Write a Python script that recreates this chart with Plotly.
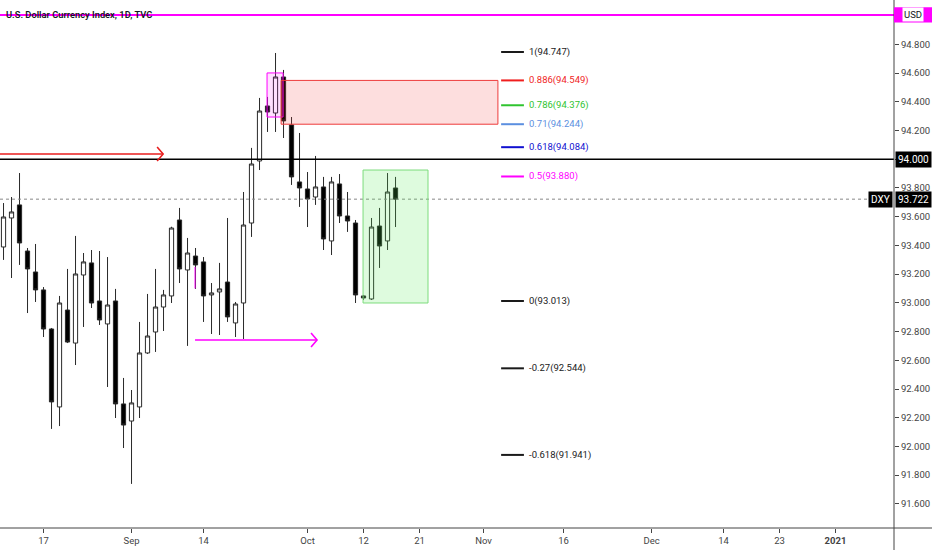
import pandas as pd
import plotly.graph_objects as go

# ---------------- data ----------------
candle_start = "2020-08-10"
axis_end = "2021-01-08"

opens = [93.389, 93.591, 93.682, 93.361, 93.215, 93.090, 92.818, 92.275, 92.950, 92.720,
         93.194, 93.278, 93.013, 92.853, 93.013, 92.296, 92.177, 92.275, 92.651, 92.797,
         92.971, 93.048, 93.577, 93.229, 93.326, 93.285, 93.055, 93.076, 93.145, 92.860,
         92.999, 93.556, 93.988, 94.371, 94.322, 94.573, 94.239, 93.842, 93.793, 93.737,
         93.807, 93.431, 93.828, 93.605, 93.556, 93.048, 93.027, 93.535, 93.431, 93.800]
highs = [93.695, 93.737, 93.904, 93.382, 93.410, 93.110, 92.825, 93.048, 93.236, 93.466,
         93.347, 93.368, 93.361, 93.319, 93.097, 92.477, 92.393, 92.867, 93.062, 93.236,
         93.090, 93.530, 93.661, 93.452, 93.382, 93.319, 93.138, 93.278, 93.591, 93.006,
         93.772, 94.079, 94.427, 94.434, 94.740, 94.622, 94.294, 94.183, 93.911, 94.023,
         93.877, 93.877, 93.897, 93.772, 93.577, 93.055, 93.591, 93.661, 93.904, 93.877]
lows = [93.299, 93.173, 93.264, 92.929, 93.006, 92.762, 92.122, 92.142, 92.720, 92.567,
        92.832, 92.964, 92.846, 92.414, 92.198, 91.989, 91.739, 92.198, 92.644, 92.658,
        92.804, 92.999, 93.138, 92.700, 93.097, 92.867, 92.783, 92.776, 92.867, 92.762,
        92.748, 93.459, 93.925, 94.190, 94.190, 94.148, 93.821, 93.668, 93.528, 93.682,
        93.368, 93.333, 93.556, 93.494, 92.999, 93.020, 93.020, 93.243, 93.368, 93.528]
closes = [93.598, 93.633, 93.417, 93.236, 93.090, 92.818, 92.310, 92.999, 92.727, 93.201,
          93.285, 92.999, 92.881, 92.985, 92.296, 92.149, 92.303, 92.651, 92.769, 92.971,
          93.055, 93.521, 93.236, 93.347, 93.264, 93.048, 93.069, 93.097, 92.902, 92.992,
          93.542, 93.967, 94.336, 94.329, 94.573, 94.267, 93.877, 93.800, 93.723, 93.807,
          93.445, 93.842, 93.605, 93.570, 93.055, 93.034, 93.528, 93.396, 93.772, 93.722]

tick_dates = ["2020-08-17", "2020-09-01", "2020-09-14", "2020-10-01", "2020-10-12", "2020-10-21",
              "2020-11-02", "2020-11-16", "2020-12-01", "2020-12-14", "2020-12-23", "2021-01-01"]
tick_text = ["17", "Sep", "14", "Oct", "12", "21", "Nov", "16", "Dec", "14", "23", "<b>2021</b>"]

price_ticks = [91.6, 91.8, 92.0, 92.2, 92.4, 92.6, 92.8, 93.0, 93.2, 93.4, 93.6, 93.8,
               94.0, 94.2, 94.4, 94.6, 94.8]

fib_ratios = ["1", "0.886", "0.786", "0.71", "0.618", "0.5", "0", "-0.27", "-0.618"]
fib_prices = [94.747, 94.549, 94.376, 94.244, 94.084, 93.880, 93.013, 92.544, 91.941]
fib_colors = ["#1a1a1a", "#f01e1e", "#2fc42f", "#5b8fe0", "#1010d0", "#ff00ff",
              "#1a1a1a", "#1a1a1a", "#1a1a1a"]

last_price = 93.722
level_94 = 94.000
usd_level = 95.005

# drawing anchors (bar-index units / price units)
x_range = [-0.44, 111.31]
y_range = [91.432, 95.109]
fib_line_x = [62.2, 65.05]
fib_label_x = 65.4
red_arrow = dict(x0=-1.0, x1=19.95, y=94.037)
magenta_arrow = dict(x0=23.94, x1=39.19, y=92.741)
magenta_tick = dict(x=23.94, y0=93.10, y1=93.25)
magenta_box = dict(x0=32.94, x1=34.94, y0=94.294, y1=94.601)
red_box = dict(x0=34.7, x1=61.8, y0=94.244, y1=94.549)
green_box = dict(x0=44.94, x1=53.06, y0=92.999, y1=93.925)
chev_dx, chev_dy = 0.75, 0.049

# ---------------- build ----------------
all_days = pd.bdate_range(candle_start, axis_end)
day_index = {d.strftime("%Y-%m-%d"): i for i, d in enumerate(all_days)}
xs = list(range(len(opens)))
tick_vals = [day_index[d] for d in tick_dates]

FONT = "Roboto"
fig = go.Figure()

fig.add_trace(go.Candlestick(
    x=xs, open=opens, high=highs, low=lows, close=closes,
    increasing=dict(line=dict(color="#2a2a2a", width=1), fillcolor="#ffffff"),
    decreasing=dict(line=dict(color="#2a2a2a", width=1), fillcolor="#000000"),
    whiskerwidth=0, hoverinfo="skip", showlegend=False,
))

shapes = []
shapes.append(dict(type="line", xref="paper", yref="y", x0=0, x1=1, y0=usd_level, y1=usd_level,
                   line=dict(color="#ff00ff", width=2)))
shapes.append(dict(type="line", xref="paper", yref="y", x0=0, x1=1, y0=level_94, y1=level_94,
                   line=dict(color="#000000", width=1.5)))
shapes.append(dict(type="line", xref="paper", yref="y", x0=0, x1=1, y0=last_price, y1=last_price,
                   line=dict(color="#888888", width=1, dash="dot")))
for b, lc, fc in [(magenta_box, "#ff00ff", "rgba(255,0,255,0.12)"),
                  (red_box, "#ee3b3b", "rgba(242,60,60,0.17)"),
                  (green_box, "#7ddc7d", "rgba(90,235,90,0.2)")]:
    shapes.append(dict(type="rect", xref="x", yref="y", x0=b["x0"], x1=b["x1"], y0=b["y0"], y1=b["y1"],
                       line=dict(color=lc, width=1), fillcolor=fc, layer="above"))
for p, c in zip(fib_prices, fib_colors):
    shapes.append(dict(type="line", xref="x", yref="y", x0=fib_line_x[0], x1=fib_line_x[1], y0=p, y1=p,
                       line=dict(color=c, width=2)))
for a, c in [(red_arrow, "#e81e1e"), (magenta_arrow, "#ff00ff")]:
    shapes.append(dict(type="line", xref="x", yref="y", x0=a["x0"], x1=a["x1"], y0=a["y"], y1=a["y"],
                       line=dict(color=c, width=1.6)))
    shapes.append(dict(type="path", xref="x", yref="y",
                       path=f"M {a['x1']-chev_dx},{a['y']+chev_dy} L {a['x1']},{a['y']} L {a['x1']-chev_dx},{a['y']-chev_dy}",
                       line=dict(color=c, width=1.6)))
shapes.append(dict(type="line", xref="x", yref="y", x0=magenta_tick["x"], x1=magenta_tick["x"],
                   y0=magenta_tick["y0"], y1=magenta_tick["y1"], line=dict(color="#ff00ff", width=1)))
shapes.append(dict(type="line", xref="paper", yref="paper", x0=1, x1=1, y0=-0.05, y1=1,
                   line=dict(color="#444444", width=1)))
shapes.append(dict(type="line", xref="paper", yref="paper", x0=0, x1=1.05, y0=0, y1=0,
                   line=dict(color="#444444", width=1)))
shapes.append(dict(type="rect", xref="paper", yref="y", x0=1.0, x1=1.05,
                   y0=usd_level - 0.053, y1=usd_level + 0.053,
                   line=dict(width=0), fillcolor="#ff00ff", layer="above"))

annotations = []
annotations.append(dict(xref="paper", yref="y", x=0, y=usd_level, xanchor="left", yanchor="middle",
                        xshift=4, text="U.S. Dollar Currency Index, 1D, TVC", showarrow=False,
                        font=dict(family=FONT, size=9.3, color="#131722", weight=600)))
for r, p, c in zip(fib_ratios, fib_prices, fib_colors):
    annotations.append(dict(xref="x", yref="y", x=fib_label_x, y=p, xanchor="left", yanchor="middle",
                            text=f"{r}({p:.3f})", showarrow=False,
                            font=dict(family=FONT, size=9.5, color=c)))
annotations.append(dict(xref="paper", yref="y", x=1, y=level_94, xanchor="left", yanchor="middle",
                        xshift=1, text=f"{level_94:.3f}", showarrow=False, bgcolor="#000000",
                        borderpad=2, font=dict(family=FONT, size=10, color="#ffffff")))
annotations.append(dict(xref="paper", yref="y", x=1, y=last_price, xanchor="left", yanchor="middle",
                        xshift=1, text=f"{last_price:.3f}", showarrow=False, bgcolor="#000000",
                        borderpad=2, font=dict(family=FONT, size=10, color="#ffffff")))
annotations.append(dict(xref="paper", yref="y", x=1, y=last_price, xanchor="right", yanchor="middle",
                        xshift=-1, text="DXY", showarrow=False, bgcolor="#000000",
                        borderpad=2, font=dict(family=FONT, size=10, color="#ffffff")))
annotations.append(dict(xref="paper", yref="y", x=1, y=usd_level, xanchor="left", yanchor="middle",
                        xshift=8, text="USD", showarrow=False, bgcolor="#ffffff",
                        borderpad=1, font=dict(family=FONT, size=9.5, color="#131722")))

fig.update_layout(
    width=932, height=550,
    margin=dict(l=0, r=38, t=0, b=22),
    paper_bgcolor="#ffffff", plot_bgcolor="#ffffff",
    showlegend=False, boxgap=0.25,
    shapes=shapes, annotations=annotations,
    font=dict(family=FONT, size=9.5, color="#555555"),
    xaxis=dict(range=x_range, tickmode="array", tickvals=tick_vals, ticktext=tick_text,
               showgrid=False, zeroline=False, showline=False, ticks="outside", ticklen=4,
               tickcolor="#444444", rangeslider=dict(visible=False),
               tickfont=dict(family=FONT, size=9.5, color="#444444")),
    yaxis=dict(range=y_range, side="right", tickmode="array", tickvals=price_ticks,
               tickformat=".3f", showgrid=False, zeroline=False, showline=False,
               ticks="outside", ticklen=4, tickcolor="#444444",
               tickfont=dict(family=FONT, size=9.5, color="#444444")),
)

fig.write_html("out.html", config={"displayModeBar": False},
               post_script="document.body.style.margin='0px';document.body.style.overflow='hidden';")
